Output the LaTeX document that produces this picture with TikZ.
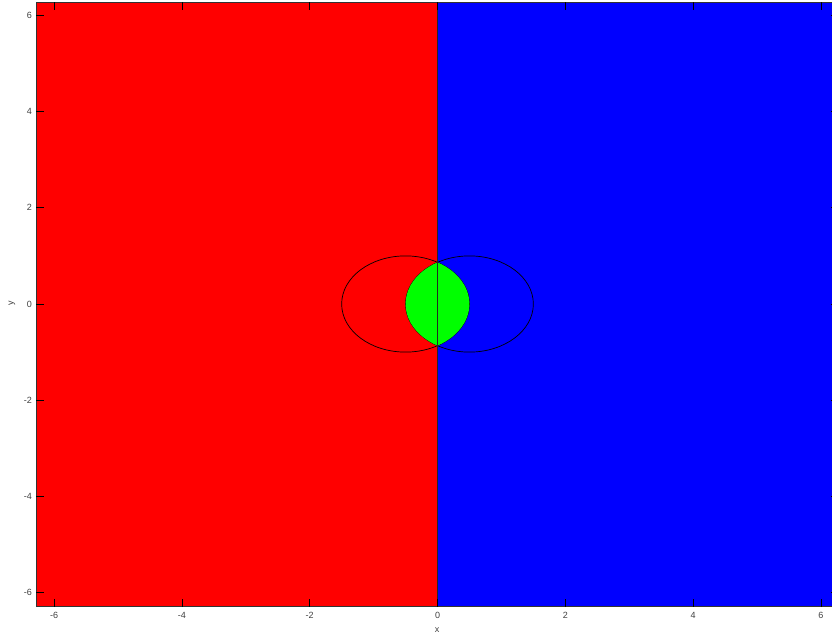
\documentclass[tikz,border=0pt]{standalone}
\usepackage{fontspec}
\setmainfont{Liberation Sans}
\begin{document}
\begin{tikzpicture}[x=1pt,y=-1pt,
  ticklab/.style={font=\fontsize{9}{10}\selectfont, text=black!75, inner sep=0pt},
  tickmark/.style={line width=0.8pt, black},
  outline/.style={line width=0.7pt, black}]
\useasboundingbox (0,0) rectangle (832,636);
% data -> px: X = 437.5 + 63.9 x ; Y = 304 - 48.1 y
\coordinate (TL) at (36,2.5);
\coordinate (BR) at (839,606.5);
\fill[red] (36,2.5) rectangle (437.5,606.5);
\fill[blue] (437.5,2.5) rectangle (839,606.5);
% circles
\coordinate (cL) at (405.55,304);
\coordinate (cR) at (469.45,304);
\draw[outline] (cL) ellipse [x radius=63.9, y radius=48.1];
\draw[outline] (cR) ellipse [x radius=63.9, y radius=48.1];
\begin{scope}
  \clip (cL) ellipse [x radius=63.9, y radius=48.1];
  \fill[green] (cR) ellipse [x radius=63.9, y radius=48.1];
\end{scope}
% dividing line
\coordinate (vt) at (437.5,2.5);
\coordinate (vb) at (437.5,606.5);
\draw[line width=0.8pt, black!85] (vt) -- (vb);
% axis box
\draw[line width=0.8pt, black!80] (36,606.5) -- (36,2.5) -- (839,2.5);
\draw[line width=0.8pt, black!80] (36,606.5) -- (839,606.5);
% x ticks
\foreach \v in {-6,-4,-2,0,2,4,6}{
  \pgfmathsetmacro{\px}{437.5+63.9*\v}
  \draw[tickmark] (\px,606.5) -- (\px,598.5);
  \draw[tickmark] (\px,2.5) -- (\px,10.5);
  \node[ticklab, anchor=north] (xl\v) at (\px,612) {\v};
}
% y ticks
\foreach \v in {-6,-4,-2,0,2,4,6}{
  \pgfmathsetmacro{\py}{304-48.1*\v}
  \draw[tickmark] (36,\py) -- (44,\py);
  \draw[tickmark] (839,\py) -- (831,\py);
  \node[ticklab, anchor=east] (yl\v) at (32,\py) {\v};
}
\node[ticklab] (xlab) at (437,630) {x};
\node[ticklab, rotate=90] (ylab) at (12,303) {y};
\end{tikzpicture}
\end{document}
